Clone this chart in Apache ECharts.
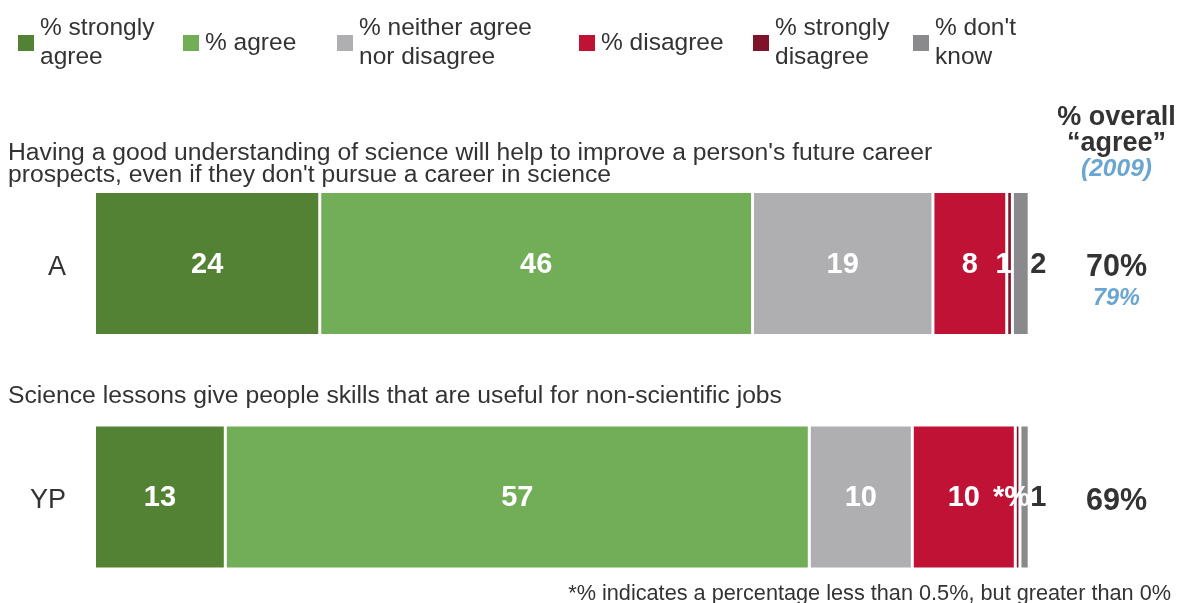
<!DOCTYPE html>
<html><head><meta charset="utf-8">
<script src="https://cdn.jsdelivr.net/npm/echarts@6/dist/echarts.min.js"></script>
<style>html,body{margin:0;padding:0;background:#fff}#c{width:1183px;height:603px}</style>
</head><body><div id="c"></div>
<script>
// ---- data ----
const categories = ['A', 'YP'];
const seriesNames = ['% strongly\nagree', '% agree', '% neither agree\nnor disagree', '% disagree', '% strongly\ndisagree', "% don't\nknow"];
const stronglyAgree = [24.1, 12.7];
const agree = [46.3, 56.7];
const neither = [19.3, 10.0];
const disagree = [7.9, 10.0];
const stronglyDisagree = [0.6, 0.45];
const dontKnow = [1.8, 0.9];
const agree2009 = [79, null];
const questions = [
  "Having a good understanding of science will help to improve a person's future career\nprospects, even if they don't pursue a career in science",
  'Science lessons give people skills that are useful for non-scientific jobs'
];
const headerLines = ['% overall', '\u201cagree\u201d', '(2009)'];
const footnote = '*% indicates a percentage less than 0.5%, but greater than 0%';

// ---- styling ----
const FONT = 'Liberation Sans, Arial, sans-serif';
const TXT = '#333333';
const BLUE = '#6aa6d1';
const colors = ['#548235', '#72ad57', '#afafb1', '#bf1235', '#7f1329', '#8a8a8c'];
const legendLeft = [16, 181, 335, 577, 751, 911];
const gridTops = [191.5, 425];

const allValues = [stronglyAgree, agree, neither, disagree, stronglyDisagree, dontKnow];
const totals = categories.map((c, i) => allValues.reduce((s, arr) => s + arr[i], 0));

function labelText(v) {
  if (v > 0 && v < 0.5) return '*%';
  return String(Math.round(v));
}

const grids = categories.map((c, i) => ({ left: 94.5, top: gridTops[i], height: 144, width: 934.7 }));
const xAxes = categories.map((c, i) => ({ gridIndex: i, type: 'value', min: 0, max: 100, show: false }));
const yAxes = categories.map((c, i) => ({
  gridIndex: i, type: 'category', data: [c],
  axisLine: { show: false }, axisTick: { show: false }, splitLine: { show: false },
  axisLabel: {
    margin: 28.5, fontFamily: FONT, fontSize: 27, color: TXT,
    formatter: v => '{c|' + v + '}',
    rich: { c: { fontFamily: FONT, fontSize: 27, color: TXT, padding: [8, 0, 0, 0] } }
  }
}));

const series = [];
categories.forEach((c, ci) => {
  allValues.forEach((arr, si) => {
    series.push({
      name: seriesNames[si],
      type: 'bar',
      stack: 'total' + ci,
      xAxisIndex: ci,
      yAxisIndex: ci,
      barWidth: '100%',
      itemStyle: { color: colors[si], borderColor: '#ffffff', borderWidth: 1.5 },
      label: {
        show: true,
        position: si === 5 ? 'right' : 'inside',
        distance: 1,
        offset: si === 4 ? [-6, 1] : [0, 1],
        color: si === 5 ? TXT : '#ffffff',
        fontFamily: FONT,
        fontWeight: 'bold',
        fontSize: 29,
        formatter: p => labelText(p.data.raw)
      },
      emphasis: { disabled: true },
      data: [{ value: arr[ci] / totals[ci] * 100, raw: arr[ci] }]
    });
  });
});

const legends = seriesNames.map((n, i) => ({
  data: [n],
  left: legendLeft[i],
  top: n.indexOf('\n') >= 0 ? 14 : 28.5,
  padding: 0,
  itemWidth: 18,
  itemHeight: 18,
  itemGap: 0,
  icon: 'rect',
  selectedMode: false,
  textStyle: { fontFamily: FONT, fontSize: 24.5, lineHeight: 29, color: TXT }
}));

const chart = echarts.init(document.getElementById('c'), null, { renderer: 'canvas' });
chart.setOption({
  animation: false,
  legend: legends,
  grid: grids,
  xAxis: xAxes,
  yAxis: yAxes,
  series: series
});

// ---- text blocks ----
const g = [];
g.push({ type: 'text', left: 8, top: 141, style: { text: questions[0], font: '24.7px ' + FONT, fill: TXT, lineHeight: 21.5 } });
g.push({ type: 'text', left: 8, top: 384, style: { text: questions[1], font: '24.7px ' + FONT, fill: TXT } });
const hx = 1116.5;
g.push({ type: 'text', x: hx, y: 118, style: { text: headerLines[0], font: 'bold 27px ' + FONT, fill: TXT, align: 'center', verticalAlign: 'middle' } });
g.push({ type: 'text', x: hx, y: 144, style: { text: headerLines[1], font: 'bold 27px ' + FONT, fill: TXT, align: 'center', verticalAlign: 'middle' } });
g.push({ type: 'text', x: hx, y: 169.5, style: { text: headerLines[2], font: 'italic bold 24.5px ' + FONT, fill: BLUE, align: 'center', verticalAlign: 'middle' } });
categories.forEach((c, i) => {
  const cy = chart.convertToPixel({ yAxisIndex: i }, c);
  const overall = Math.round(stronglyAgree[i] + agree[i]);
  g.push({ type: 'text', x: hx, y: cy + 4.5, style: { text: overall + '%', font: 'bold 30.5px ' + FONT, fill: TXT, align: 'center', verticalAlign: 'middle' } });
  if (agree2009[i] != null) {
    g.push({ type: 'text', x: hx, y: cy + 35.5, style: { text: agree2009[i] + '%', font: 'italic bold 23.5px ' + FONT, fill: BLUE, align: 'center', verticalAlign: 'middle' } });
  }
});
g.push({ type: 'text', right: 12, top: 583, style: { text: footnote, font: '21.7px ' + FONT, fill: TXT } });
chart.setOption({ graphic: g });
</script>
</body></html>
